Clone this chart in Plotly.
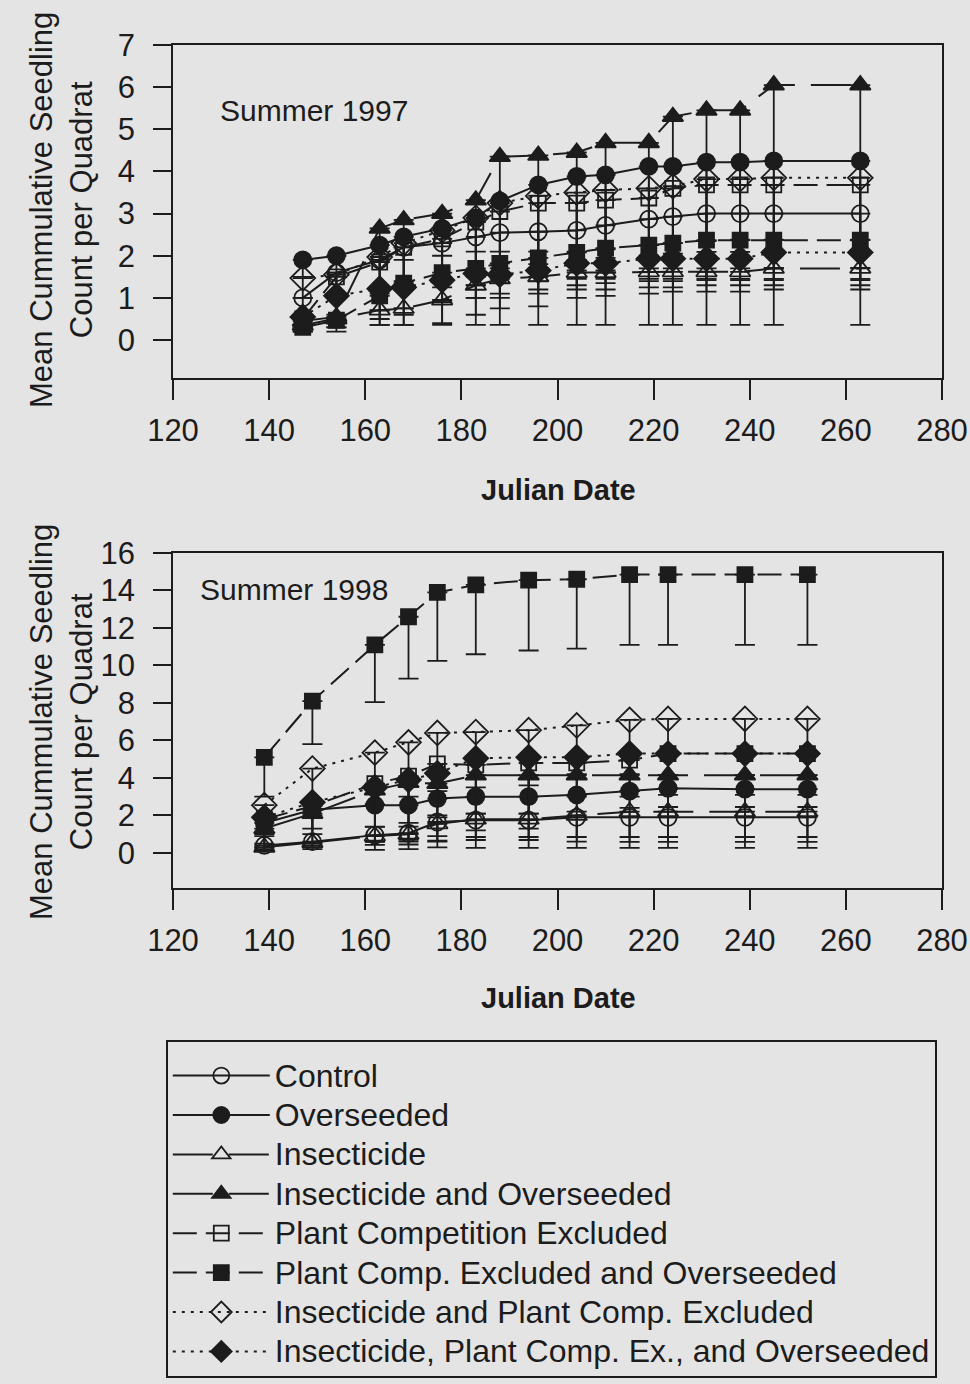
import plotly.graph_objects as go

# ---------------- data ----------------
series_names = [
    "Control", "Overseeded", "Insecticide", "Insecticide and Overseeded",
    "Plant Competition Excluded", "Plant Comp. Excluded and Overseeded",
    "Insecticide and Plant Comp. Excluded",
    "Insecticide, Plant Comp. Ex., and Overseeded",
]

dates97 = [147, 154, 163, 168, 176, 183, 188, 196, 204, 210, 219, 224, 231, 238, 245, 263]
control97 = [1.0, 1.6, 1.9, 2.2, 2.3, 2.45, 2.55, 2.57, 2.6, 2.72, 2.87, 2.93, 3.0, 3.0, 3.0, 3.0]
control97_low = [0.6, 1.0, 1.1, 1.2, 1.25, 1.3, 1.35, 1.4, 1.45, 1.45, 1.45, 1.45, 1.45, 1.45, 1.45, 1.45]
overseeded97 = [1.9, 2.0, 2.25, 2.45, 2.65, 2.9, 3.3, 3.68, 3.88, 3.92, 4.12, 4.12, 4.22, 4.22, 4.25, 4.25]
overseeded97_low = [1.5, 1.6, 1.85, 1.9, 2.0, 2.1, 2.1, 2.1, 2.1, 2.15, 2.25, 2.3, 2.35, 2.38, 2.38, 2.38]
insect97 = [0.35, 0.5, 0.71, 0.75, 0.95, 1.3, 1.45, 1.5, 1.6, 1.6, 1.62, 1.62, 1.62, 1.62, 1.7, 1.7]
insect97_low = [0.2, 0.3, 0.36, 0.36, 0.4, 0.6, 0.75, 0.8, 1.0, 1.05, 1.1, 1.15, 1.15, 1.15, 1.2, 1.2]
insover97 = [0.45, 0.55, 2.65, 2.85, 3.0, 3.32, 4.35, 4.38, 4.45, 4.68, 4.68, 5.3, 5.45, 5.45, 6.05, 6.05]
insover97_low = [0.25, 0.3, 0.36, 0.36, 0.36, 0.36, 0.36, 0.36, 0.36, 0.36, 0.36, 0.36, 0.36, 0.36, 0.36, 0.36]
pce97 = [0.5, 1.5, 1.85, 2.2, 2.4, 2.8, 3.05, 3.25, 3.25, 3.32, 3.37, 3.6, 3.68, 3.68, 3.68, 3.68]
pce97_low = [0.3, 1.0, 1.2, 1.4, 1.5, 1.6, 1.7, 1.8, 1.9, 1.95, 2.0, 2.05, 2.09, 2.09, 2.09, 2.09]
pceover97 = [0.3, 0.47, 1.05, 1.35, 1.6, 1.7, 1.82, 1.95, 2.08, 2.18, 2.25, 2.3, 2.37, 2.37, 2.37, 2.37]
pceover97_low = [0.2, 0.2, 0.5, 0.6, 0.9, 1.0, 1.1, 1.2, 1.3, 1.35, 1.4, 1.4, 1.42, 1.42, 1.42, 1.42]
inspce97 = [1.47, 1.55, 1.97, 2.3, 2.6, 2.9, 3.25, 3.42, 3.5, 3.56, 3.6, 3.65, 3.82, 3.82, 3.85, 3.85]
inspce97_low = [1.0, 1.1, 1.2, 1.3, 1.4, 1.5, 1.55, 1.6, 1.65, 1.65, 1.7, 1.7, 1.7, 1.7, 1.71, 1.71]
inspceover97 = [0.55, 1.05, 1.22, 1.25, 1.42, 1.58, 1.55, 1.65, 1.82, 1.82, 1.93, 1.93, 1.93, 1.93, 2.08, 2.08]
inspceover97_low = [0.3, 0.6, 0.7, 0.75, 0.9, 1.0, 1.0, 1.1, 1.2, 1.2, 1.25, 1.25, 1.3, 1.3, 1.3, 1.3]

dates98 = [139, 149, 162, 169, 175, 183, 194, 204, 215, 223, 239, 252]
control98 = [0.4, 0.6, 0.95, 1.05, 1.65, 1.75, 1.75, 1.9, 1.9, 1.9, 1.9, 1.9]
control98_low = [0.15, 0.3, 0.43, 0.45, 0.6, 0.85, 0.85, 0.85, 0.85, 0.85, 0.85, 0.85]
overseeded98 = [1.6, 2.3, 2.55, 2.55, 2.9, 3.0, 3.0, 3.1, 3.3, 3.45, 3.4, 3.4]
overseeded98_low = [0.9, 1.3, 1.4, 1.4, 1.9, 2.1, 2.1, 2.2, 2.4, 2.45, 2.45, 2.45]
insect98 = [0.3, 0.55, 0.9, 1.0, 1.55, 1.8, 1.8, 2.0, 2.2, 2.2, 2.2, 2.2]
insect98_low = [0.1, 0.2, 0.16, 0.2, 0.3, 0.27, 0.27, 0.27, 0.27, 0.27, 0.27, 0.27]
insover98 = [1.3, 2.1, 3.35, 3.75, 3.7, 4.15, 4.15, 4.15, 4.15, 4.15, 4.15, 4.15]
insover98_low = [0.2, 0.4, 0.59, 0.6, 0.65, 0.69, 0.69, 0.6, 0.59, 0.59, 0.59, 0.59]
pce98 = [1.8, 2.5, 3.7, 4.1, 4.75, 4.7, 4.8, 4.8, 4.95, 5.3, 5.3, 5.3]
pce98_low = [0.5, 1.0, 1.39, 1.6, 2.0, 2.1, 2.1, 3.0, 3.0, 3.1, 3.1, 3.1]
pceover98 = [5.1, 8.1, 11.1, 12.6, 13.9, 14.3, 14.55, 14.6, 14.85, 14.85, 14.85, 14.85]
pceover98_low = [3.0, 5.8, 8.05, 9.3, 10.25, 10.6, 10.8, 10.9, 11.1, 11.1, 11.1, 11.1]
inspce98 = [2.55, 4.5, 5.35, 5.9, 6.4, 6.45, 6.55, 6.8, 7.1, 7.15, 7.15, 7.15]
inspce98_low = [1.0, 2.0, 2.6, 3.0, 3.3, 3.5, 3.6, 4.2, 4.2, 4.15, 4.15, 4.15]
inspceover98 = [1.9, 2.7, 3.5, 3.9, 4.25, 5.05, 5.1, 5.1, 5.3, 5.3, 5.3, 5.3]
inspceover98_low = [0.3, 0.5, 0.6, 0.7, 0.9, 1.2, 1.3, 3.1, 3.3, 3.4, 3.4, 3.4]

x_ticks = [120, 140, 160, 180, 200, 220, 240, 260, 280]
y_ticks97 = [0, 1, 2, 3, 4, 5, 6, 7]
y_ticks98 = [0, 2, 4, 6, 8, 10, 12, 14, 16]

# ---------------- styles ----------------
INK = "#1c1c1c"
BG = "#e4e4e4"
FONT = "Liberation Sans, Arial, sans-serif"

styles = [
    dict(symbol="circle-open", dash="solid"),
    dict(symbol="circle", dash="solid"),
    dict(symbol="triangle-up-open", dash="40px,16px"),
    dict(symbol="triangle-up", dash="40px,16px"),
    dict(symbol="square-open", dash="24px,9px"),
    dict(symbol="square", dash="24px,9px"),
    dict(symbol="diamond-open", dash="3px,6px"),
    dict(symbol="diamond", dash="3px,6px"),
]
sizes = [17, 17, 18, 18, 15, 15, 19, 19]

data97 = [
    (control97, control97_low), (overseeded97, overseeded97_low),
    (insect97, insect97_low), (insover97, insover97_low),
    (pce97, pce97_low), (pceover97, pceover97_low),
    (inspce97, inspce97_low), (inspceover97, inspceover97_low),
]
data98 = [
    (control98, control98_low), (overseeded98, overseeded98_low),
    (insect98, insect98_low), (insover98, insover98_low),
    (pce98, pce98_low), (pceover98, pceover98_low),
    (inspce98, inspce98_low), (inspceover98, inspceover98_low),
]

fig = go.Figure()


def add_series(xs, ys, lows, i, xa, ya, show):
    st = styles[i]
    fig.add_trace(go.Scatter(
        x=xs, y=ys, mode="lines+markers",
        name='<span style="font-size:32px">' + series_names[i] + "</span>",
        xaxis=xa, yaxis=ya, showlegend=show, legendrank=i,
        line=dict(color=INK, width=2, dash=st["dash"]),
        marker=dict(symbol=st["symbol"], size=sizes[i], color=INK,
                    line=dict(color=INK, width=1.8)),
        error_y=dict(type="data", symmetric=False,
                     array=[0] * len(ys),
                     arrayminus=[v - lo for v, lo in zip(ys, lows)],
                     color=INK, thickness=1.8, width=10),
    ))


for i, (ys, lows) in enumerate(data97):
    add_series(dates97, ys, lows, i, "x", "y", True)
for i, (ys, lows) in enumerate(data98):
    add_series(dates98, ys, lows, i, "x2", "y2", False)

H = 1384.0
W = 970.0


def py(p):
    return 1 - p / H


def px(p):
    return p / W


xdom = [px(173), px(942)]
axis_common = dict(
    showline=True, linecolor=INK, linewidth=1.8, mirror=True,
    ticks="outside", tickcolor=INK, tickwidth=1.8,
    showgrid=False, zeroline=False, automargin=False,
    tickfont=dict(family=FONT, size=31, color=INK),
)

fig.update_layout(
    width=970, height=1384,
    margin=dict(l=0, r=0, t=0, b=0, autoexpand=False),
    paper_bgcolor=BG, plot_bgcolor=BG,
    font=dict(family=FONT, color=INK),
    xaxis=dict(domain=xdom, anchor="y", range=[120, 280], tickvals=x_ticks,
               ticklen=20, ticklabelstandoff=4, **axis_common),
    yaxis=dict(domain=[py(378), py(45)], anchor="x", range=[-0.9, 7],
               tickvals=y_ticks97, ticklen=18, ticklabelstandoff=12, **axis_common),
    xaxis2=dict(domain=xdom, anchor="y2", range=[120, 280], tickvals=x_ticks,
                ticklen=20, ticklabelstandoff=4, **axis_common),
    yaxis2=dict(domain=[py(888), py(553)], anchor="x2", range=[-1.87, 16],
                tickvals=y_ticks98, ticklen=18, ticklabelstandoff=12, **axis_common),
    legend=dict(
        x=px(166), y=py(1040), xanchor="left", yanchor="top",
        bgcolor="rgba(0,0,0,0)", bordercolor=INK, borderwidth=1.8,
        font=dict(family=FONT, size=28, color=INK),
        title=dict(text="&nbsp;", font=dict(size=7)),
        itemwidth=97, tracegroupgap=0, traceorder="normal",
    ),
    showlegend=True,
)

ann = []
ann.append(dict(text="Summer 1997", x=px(218), y=py(110), xref="paper", yref="paper",
                xanchor="left", yanchor="middle", showarrow=False,
                font=dict(family=FONT, size=30, color=INK)))
ann.append(dict(text="Summer 1998", x=px(198), y=py(590), xref="paper", yref="paper",
                xanchor="left", yanchor="middle", showarrow=False,
                font=dict(family=FONT, size=30, color=INK)))
for yc in (490, 998):
    ann.append(dict(text="<b>Julian Date</b>", x=px(558), y=py(yc), xref="paper", yref="paper",
                    xanchor="center", yanchor="middle", showarrow=False,
                    font=dict(family=FONT, size=29, color=INK)))
for yc in (210, 722):
    ann.append(dict(text="Mean Cummulative Seedling<br>Count per Quadrat",
                    x=px(61), y=py(yc), xref="paper", yref="paper",
                    xanchor="center", yanchor="middle", showarrow=False, textangle=-90,
                    font=dict(family=FONT, size=31, color=INK)))
fig.update_layout(annotations=ann)

fig.write_html("out.html")
